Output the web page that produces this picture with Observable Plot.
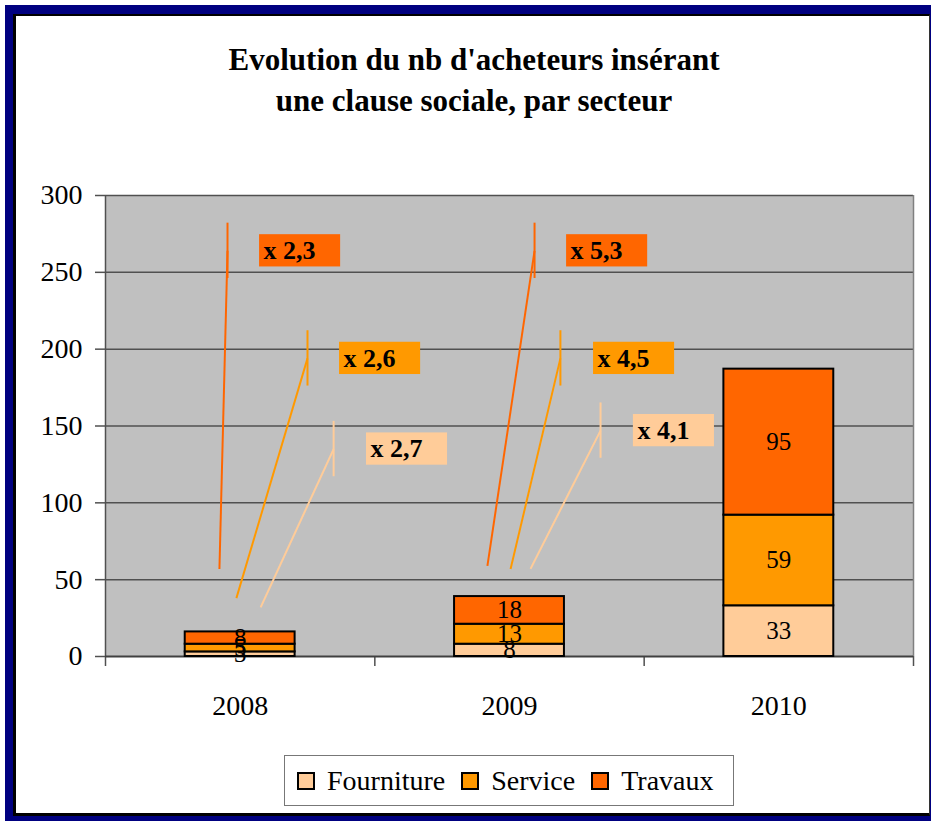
<!DOCTYPE html>
<html>
<head>
<meta charset="utf-8">
<script src="https://cdn.jsdelivr.net/npm/d3@7"></script>
<script src="https://cdn.jsdelivr.net/npm/@observablehq/plot@0.6"></script>
<style>
  html, body { margin: 0; padding: 0; background: #fff; }
  #page { position: relative; width: 931px; height: 821px; overflow: hidden; font-family: "Liberation Serif", "Times New Roman", serif; }
  #navy { position: absolute; left: 5px; top: 5px; width: 940px; height: 820px; background: #000080; }
  #inner { position: absolute; left: 13px; top: 14px; width: 917px; height: 802px; box-sizing: border-box; background: #fff;
           border-left: 3px solid #000; border-top: 2px solid #000; border-bottom: 3px solid #000; border-right: 1px solid #333; }
  #title { position: absolute; left: 0; width: 948px; top: 39px; text-align: center; font-weight: bold; font-size: 31px; line-height: 41px; color: #000; }
  #chart { position: absolute; left: 0; top: 0; }
  #legend { position: absolute; left: 284px; top: 755px; width: 450px; height: 51px; box-sizing: border-box; border: 1px solid #777; background: #fff;
            display: flex; align-items: center; font-size: 28px; color: #000; }
  .item { display: flex; align-items: center; }
  .sw { width: 14px; height: 14px; border: 2px solid #000; margin-right: 12px; }
</style>
</head>
<body>
<div id="page">
  <div id="navy"></div>
  <div id="inner"></div>
  <div id="title">Evolution du nb d'acheteurs insérant<br>une clause sociale, par secteur</div>
  <div id="chart"></div>
  <div id="legend"></div>
</div>
<script>
// ---- data ----
const years = [2008, 2009, 2010];
const sectors = ["Fourniture", "Service", "Travaux"];
const sectorColors = ["#FFCC99", "#FF9900", "#FF6600"];
const fourniture = [3, 8, 33];
const service = [5, 13, 59];
const travaux = [8, 18, 95];
const yTicks = [0, 50, 100, 150, 200, 250, 300];

// growth annotations (data space: x in years, y in counts)
const arrowSector = ["Travaux", "Service", "Fourniture", "Travaux", "Service", "Fourniture"];
const arrowX1 = [2007.923, 2007.986, 2008.076, 2008.918, 2009.004, 2009.078];
const arrowY1 = [57, 38, 32, 59, 57, 57];
const arrowX2 = [2007.953, 2008.250, 2008.347, 2009.093, 2009.189, 2009.338];
const arrowY2 = [264, 194, 135, 264, 194, 147];
const ratioText = ["x 2,3", "x 2,6", "x 2,7", "x 5,3", "x 4,5", "x 4,1"];
const ratioX = [2008.072, 2008.369, 2008.469, 2009.212, 2009.312, 2009.460];
const ratioY = [264, 194, 135, 264, 194, 147];

// ---- build tables ----
const seriesValues = [fourniture, service, travaux];
const segs = [];
years.forEach((yr, i) => {
  let cum = 0;
  sectors.forEach((s, j) => {
    const v = seriesValues[j][i];
    segs.push({year: yr, sector: s, value: v, y1: cum, y2: cum + v});
    cum += v;
  });
});
const arrows = arrowSector.map((s, i) => ({sector: s, x1: arrowX1[i], y1: arrowY1[i], x2: arrowX2[i], y2: arrowY2[i]}));
const ratios = ratioText.map((t, i) => ({sector: arrowSector[i], text: t, x: ratioX[i], y: ratioY[i]}));

const halfBar = 0.204;   // bar half-width in year units
const boxW = 0.301;      // label box width in year units
const boxH = 10.5;       // label box half-height in count units
const headH = 18;        // arrow tick half-length in count units
const font = "Liberation Serif";

const chart = Plot.plot({
  width: 931,
  height: 760,
  marginLeft: 105,
  marginRight: 18,
  marginTop: 195,
  marginBottom: 104,
  style: {background: "transparent", fontFamily: font, fontSize: "27px", color: "#000"},
  x: {type: "linear", domain: [2007.5, 2010.5], label: null},
  y: {domain: [0, 300], label: null},
  color: {domain: sectors, range: sectorColors},
  marks: [
    Plot.frame({fill: "#C0C0C0", stroke: null}),
    Plot.gridY(yTicks.slice(1), {stroke: "#505050", strokeOpacity: 1, strokeWidth: 1.5}),
    Plot.axisY({ticks: yTicks, tickSize: 10, tickPadding: 13, fontSize: 28, fontFamily: font, stroke: "#505050", strokeWidth: 1.5, label: null}),
    Plot.axisX({ticks: [2007.5, 2008.5, 2009.5, 2010.5], tickFormat: () => "", tickSize: 10, stroke: "#505050", strokeWidth: 1.5, label: null}),
    Plot.axisX({ticks: years, tickFormat: d => String(d), tickSize: 0, tickPadding: 39, fontSize: 28, fontFamily: font, label: null}),
    Plot.ruleX([2007.5], {y1: 0, y2: 300, stroke: "#505050", strokeWidth: 1.5}),
    Plot.ruleX([2010.5], {y1: 0, y2: 300, stroke: "#808080", strokeWidth: 1.5}),
    Plot.ruleY([0], {stroke: "#404040", strokeWidth: 2}),
    Plot.rect(segs, {x1: d => d.year - halfBar, x2: d => d.year + halfBar, y1: "y1", y2: "y2", fill: "sector", stroke: "#000", strokeWidth: 2}),
    Plot.text(segs, {x: "year", y: d => (d.y1 + d.y2) / 2, text: d => String(d.value), fontSize: 25, fontFamily: font, fill: "#000"}),
    Plot.link(arrows, {x1: "x1", y1: "y1", x2: "x2", y2: "y2", stroke: "sector", strokeWidth: 2}),
    Plot.ruleX(arrows, {x: "x2", y1: d => d.y2 - headH, y2: d => d.y2 + headH, stroke: "sector", strokeWidth: 2}),
    Plot.rect(ratios, {x1: "x", x2: d => d.x + boxW, y1: d => d.y - boxH, y2: d => d.y + boxH, fill: "sector"}),
    Plot.text(ratios, {x: "x", y: "y", text: "text", textAnchor: "start", dx: 4, fontSize: 26, fontWeight: "bold", fontFamily: font, fill: "#000"})
  ]
});
document.getElementById("chart").appendChild(chart);

// legend
const legend = document.getElementById("legend");
const gaps = [12, 16, 16];
sectors.forEach((s, i) => {
  const item = document.createElement("div");
  item.className = "item";
  item.style.marginLeft = gaps[i] + "px";
  const sw = document.createElement("div");
  sw.className = "sw";
  sw.style.background = sectorColors[i];
  const lab = document.createElement("span");
  lab.textContent = s;
  item.appendChild(sw);
  item.appendChild(lab);
  legend.appendChild(item);
});
</script>
</body>
</html>
